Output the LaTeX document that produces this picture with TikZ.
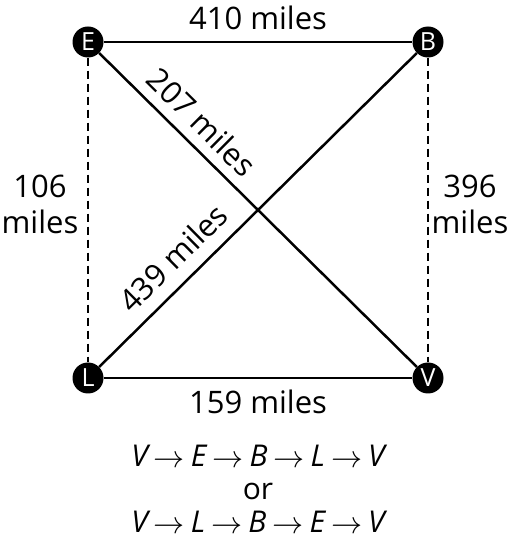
\documentclass[tikz,border=0pt]{standalone}
\usepackage{fontspec}
\setmainfont{Open Sans}
\newcommand{\myarr}{\hspace{6pt}\raisebox{-1pt}{\scalebox{1.25}{$\rightarrow$}}\hspace{6pt}}
\begin{document}
\begin{tikzpicture}[x=1pt,y=1pt,
  vtx/.style={circle,fill=black,inner sep=0pt,minimum size=31pt,text=white,font=\fontsize{25}{28}\selectfont},
  edge/.style={line width=2.5pt},
  dedge/.style={line width=2.5pt,dash pattern=on 8pt off 5pt},
  lbl/.style={font=\fontsize{31}{36}\selectfont,align=center,inner sep=0pt}]
\useasboundingbox (0,0) rectangle (515,550);
\node[vtx] (E) at (88,508) {E};
\node[vtx] (B) at (428,508) {B};
\node[vtx] (L) at (88,172) {L};
\node[vtx] (V) at (428,172) {V};
\draw[edge] (E) -- (B);
\draw[edge] (L) -- (V);
\draw[edge] (E) -- (V);
\draw[edge] (L) -- (B);
\draw[dedge] (E) -- (L);
\draw[dedge] (B) -- (V);
\node[lbl] (t1) at (258,532) {410 miles};
\node[lbl] (t2) at (258,148) {159 miles};
\node[lbl] (t3) at (40,346) {106\\miles};
\node[lbl] (t4) at (470,346) {396\\miles};
\node[lbl,rotate=-44.7] (t5) at (202,428) {207 miles};
\node[lbl,rotate=44.7] (t6) at (173,292) {439 miles};
\node[lbl,font=\fontsize{30}{34}\selectfont] (t7) at (258,61) {\itshape V\myarr E\myarr B\myarr L\myarr V\\[-1pt]or\\[-1pt]\itshape V\myarr L\myarr B\myarr E\myarr V};
\end{tikzpicture}
\end{document}
